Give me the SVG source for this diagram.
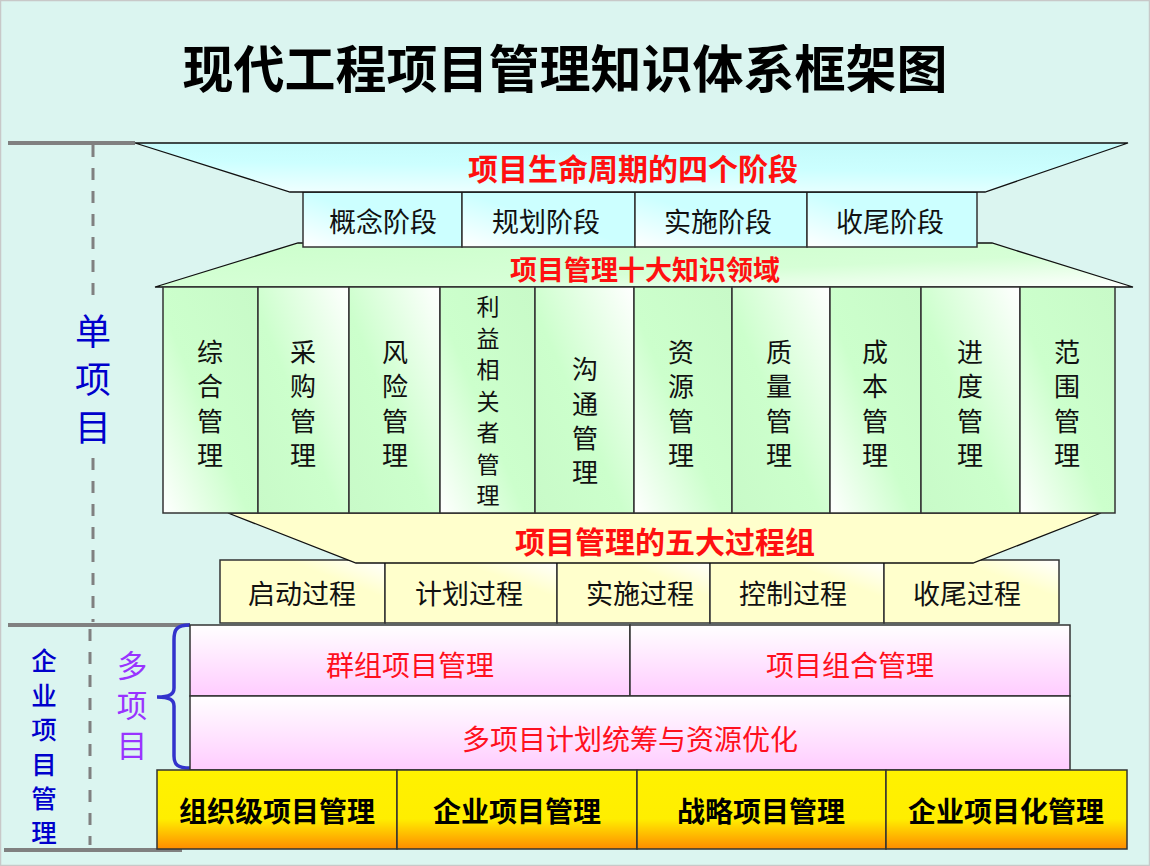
<svg xmlns="http://www.w3.org/2000/svg" width="1150" height="866" viewBox="0 0 1150 866">
<defs>
<linearGradient id="gCyan" x1="0" y1="1" x2="1" y2="0">
<stop offset="0" stop-color="#FFFFFF"/><stop offset="0.5" stop-color="#CCFFFF"/><stop offset="1" stop-color="#CCFFFF"/>
</linearGradient>
<linearGradient id="gCyanBanner" x1="0" y1="1" x2="0.3" y2="0">
<stop offset="0" stop-color="#F2FFFF"/><stop offset="0.6" stop-color="#CCFFFF"/><stop offset="1" stop-color="#C6FBFB"/>
</linearGradient>
<linearGradient id="gGreenBanner" x1="0" y1="0" x2="1" y2="1">
<stop offset="0" stop-color="#CCFFCC"/><stop offset="0.6" stop-color="#D6FFD6"/><stop offset="1" stop-color="#FFFFFF"/>
</linearGradient>
<linearGradient id="gCol" x1="0" y1="1" x2="1" y2="0">
<stop offset="0" stop-color="#FFFFFF"/><stop offset="0.45" stop-color="#CCFFCC"/><stop offset="1" stop-color="#C8FAC8"/>
</linearGradient>
<linearGradient id="gCol2" x1="1" y1="0" x2="0" y2="1">
<stop offset="0" stop-color="#FFFFFF"/><stop offset="0.55" stop-color="#CCFFCC"/><stop offset="1" stop-color="#C8FAC8"/>
</linearGradient>
<linearGradient id="gYellow" x1="0" y1="1" x2="1" y2="0">
<stop offset="0" stop-color="#FFFFCC"/><stop offset="0.7" stop-color="#FFFFCC"/><stop offset="1" stop-color="#FFFFFF"/>
</linearGradient>
<linearGradient id="gPink" x1="0" y1="0" x2="0" y2="1">
<stop offset="0" stop-color="#FFFFFF"/><stop offset="1" stop-color="#FFCCFF"/>
</linearGradient>
<linearGradient id="gGold" x1="0" y1="0" x2="0" y2="1">
<stop offset="0" stop-color="#FFF200"/><stop offset="0.62" stop-color="#FFEE00"/><stop offset="1" stop-color="#FF8C00"/>
</linearGradient>
<style>
.bx{stroke:#333333;stroke-width:1.5}
.bn{stroke:#111111;stroke-width:1.3}
.t{font-family:"Noto Sans CJK SC","Noto Sans CJK JP",sans-serif;text-anchor:middle;dominant-baseline:central}
.blk{fill:#111111;font-size:27px}
.red{fill:#FF1010;font-size:30px;font-weight:700}
.redn{fill:#FF1020;font-size:28px}
.bold{fill:#000000;font-size:28px;font-weight:700}
.col{fill:#111111;font-size:26px}
.gl{stroke:#808080;stroke-width:4;fill:none}
.dl{stroke:#808080;stroke-width:3;stroke-dasharray:12 11;fill:none}
</style>
</defs>
<rect x="0" y="0" width="1150" height="866" fill="#DBF5F0"/>
<rect x="0.5" y="0.5" width="1149" height="865" fill="none" stroke="#C8C8C8" stroke-width="1.5"/>

<text id="title" class="t" x="565" y="66" style="font-size:51px;font-weight:700;fill:#000">现代工程项目管理知识体系框架图</text>

<g id="guides">
<line class="gl" x1="8" y1="143" x2="135" y2="143"/>
<line class="dl" x1="93" y1="145" x2="93" y2="302"/>
<line class="dl" x1="93" y1="458" x2="93" y2="622"/>
<line class="gl" x1="8" y1="625" x2="190" y2="625"/>
<line class="dl" x1="90" y1="629" x2="90" y2="845"/>
<line class="gl" x1="4" y1="850" x2="182" y2="850"/>
<path d="M190,625 C176,625 174,630 174,640 L174,688 C174,694 170,697 157,697 C170,697 174,700 174,706 L174,756 C174,765 178,768 190,768" fill="none" stroke="#3333CC" stroke-width="3.5"/>
</g>

<g id="side-labels">
<text class="t" x="93" style="font-size:36px;fill:#0000CC"><tspan x="93" y="329">单</tspan><tspan x="93" y="377">项</tspan><tspan x="93" y="425">目</tspan></text>
<text class="t" x="44" style="font-size:25.5px;fill:#0000CC;font-weight:500"><tspan x="44" y="658">企</tspan><tspan x="44" y="692.5">业</tspan><tspan x="44" y="727">项</tspan><tspan x="44" y="761.5">目</tspan><tspan x="44" y="796">管</tspan><tspan x="44" y="830">理</tspan></text>
<text class="t" x="132" style="font-size:30.5px;fill:#9933FF"><tspan x="132" y="664">多</tspan><tspan x="132" y="704">项</tspan><tspan x="132" y="744">目</tspan></text>
</g>

<g id="knowledge-banner">
<polygon class="bn" points="298,243 992,243 1133,287 155,287" fill="url(#gGreenBanner)"/>
<text class="t red" x="645" y="268" style="font-size:27px">项目管理十大知识领域</text>
</g>

<g id="stages">
<rect class="bx" x="303" y="192" width="159" height="55" fill="url(#gCyan)"/>
<text class="t blk" x="383" y="220">概念阶段</text>
<rect class="bx" x="462" y="192" width="173" height="55" fill="url(#gCyan)"/>
<text class="t blk" x="546" y="220">规划阶段</text>
<rect class="bx" x="635" y="192" width="172" height="55" fill="url(#gCyan)"/>
<text class="t blk" x="718" y="220">实施阶段</text>
<rect class="bx" x="807" y="192" width="170" height="55" fill="url(#gCyan)"/>
<text class="t blk" x="890" y="220">收尾阶段</text>
</g>

<g id="lifecycle-banner">
<polygon class="bn" points="135,143 1128,143 985,192 290,192" fill="url(#gCyanBanner)"/>
<text class="t red" x="633" y="167" style="font-size:30px">项目生命周期的四个阶段</text>
</g>

<g id="processes">
<rect class="bx" x="220" y="560" width="165" height="63" fill="url(#gYellow)"/>
<text class="t blk" x="302" y="592">启动过程</text>
<rect class="bx" x="385" y="560" width="172" height="63" fill="url(#gYellow)"/>
<text class="t blk" x="469" y="592">计划过程</text>
<rect class="bx" x="557" y="560" width="153" height="63" fill="url(#gYellow)"/>
<text class="t blk" x="640" y="592">实施过程</text>
<rect class="bx" x="710" y="560" width="174" height="63" fill="url(#gYellow)"/>
<text class="t blk" x="793" y="592">控制过程</text>
<rect class="bx" x="884" y="560" width="175" height="63" fill="url(#gYellow)"/>
<text class="t blk" x="967" y="592">收尾过程</text>
</g>

<g id="process-banner">
<polygon class="bn" points="228,513 1101,513 973,563 356,563" fill="#FFFFCC"/>
<text class="t red" x="665" y="540" style="font-size:30px">项目管理的五大过程组</text>
</g>

<g id="knowledge-areas">
<rect class="bx" x="163" y="287" width="95" height="226" fill="url(#gCol)"/>
<text class="t col"><tspan x="210" y="350">综</tspan><tspan x="210" y="384">合</tspan><tspan x="210" y="419">管</tspan><tspan x="210" y="453">理</tspan></text>
<rect class="bx" x="258" y="287" width="91" height="226" fill="url(#gCol2)"/>
<text class="t col"><tspan x="303" y="350">采</tspan><tspan x="303" y="384">购</tspan><tspan x="303" y="419">管</tspan><tspan x="303" y="453">理</tspan></text>
<rect class="bx" x="349" y="287" width="91" height="226" fill="url(#gCol2)"/>
<text class="t col"><tspan x="395" y="350">风</tspan><tspan x="395" y="384">险</tspan><tspan x="395" y="419">管</tspan><tspan x="395" y="453">理</tspan></text>
<rect class="bx" x="440" y="287" width="95" height="226" fill="url(#gCol)"/>
<text class="t col" style="font-size:23px"><tspan x="488" y="305">利</tspan><tspan x="488" y="336.5">益</tspan><tspan x="488" y="368">相</tspan><tspan x="488" y="399.5">关</tspan><tspan x="488" y="431">者</tspan><tspan x="488" y="462.5">管</tspan><tspan x="488" y="494">理</tspan></text>
<rect class="bx" x="535" y="287" width="99" height="226" fill="url(#gCol2)"/>
<text class="t col"><tspan x="585" y="367">沟</tspan><tspan x="585" y="402">通</tspan><tspan x="585" y="436">管</tspan><tspan x="585" y="470">理</tspan></text>
<rect class="bx" x="634" y="287" width="98" height="226" fill="url(#gCol)"/>
<text class="t col"><tspan x="681" y="350">资</tspan><tspan x="681" y="384">源</tspan><tspan x="681" y="419">管</tspan><tspan x="681" y="453">理</tspan></text>
<rect class="bx" x="732" y="287" width="98" height="226" fill="url(#gCol2)"/>
<text class="t col"><tspan x="779" y="350">质</tspan><tspan x="779" y="384">量</tspan><tspan x="779" y="419">管</tspan><tspan x="779" y="453">理</tspan></text>
<rect class="bx" x="830" y="287" width="91" height="226" fill="url(#gCol)"/>
<text class="t col"><tspan x="875" y="350">成</tspan><tspan x="875" y="384">本</tspan><tspan x="875" y="419">管</tspan><tspan x="875" y="453">理</tspan></text>
<rect class="bx" x="921" y="287" width="99" height="226" fill="url(#gCol2)"/>
<text class="t col"><tspan x="970" y="350">进</tspan><tspan x="970" y="384">度</tspan><tspan x="970" y="419">管</tspan><tspan x="970" y="453">理</tspan></text>
<rect class="bx" x="1020" y="287" width="95" height="226" fill="url(#gCol)"/>
<text class="t col"><tspan x="1067" y="350">范</tspan><tspan x="1067" y="384">围</tspan><tspan x="1067" y="419">管</tspan><tspan x="1067" y="453">理</tspan></text>
</g>

<g id="multi-project">
<rect class="bx" x="190" y="625" width="440" height="71" fill="url(#gPink)"/>
<text class="t redn" x="410" y="664">群组项目管理</text>
<rect class="bx" x="630" y="625" width="440" height="71" fill="url(#gPink)"/>
<text class="t redn" x="850" y="664">项目组合管理</text>
<rect class="bx" x="190" y="696" width="880" height="74" fill="url(#gPink)"/>
<text class="t redn" x="630" y="738">多项目计划统筹与资源优化</text>
</g>

<g id="enterprise">
<rect class="bx" x="157" y="770" width="240" height="79" fill="url(#gGold)"/>
<text class="t bold" x="277" y="810">组织级项目管理</text>
<rect class="bx" x="397" y="770" width="240" height="79" fill="url(#gGold)"/>
<text class="t bold" x="517" y="810">企业项目管理</text>
<rect class="bx" x="637" y="770" width="249" height="79" fill="url(#gGold)"/>
<text class="t bold" x="761" y="810">战略项目管理</text>
<rect class="bx" x="886" y="770" width="241" height="79" fill="url(#gGold)"/>
<text class="t bold" x="1006" y="810">企业项目化管理</text>
</g>
</svg>
